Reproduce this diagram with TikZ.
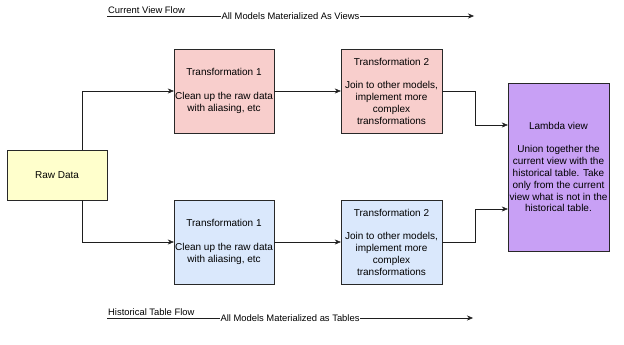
\documentclass[tikz,border=0pt]{standalone}
\usepackage{fontspec}
\setmainfont{Liberation Sans}
\usepackage{xcolor}
\usepackage{tikz}
\usetikzlibrary{arrows.meta,positioning,calc}
\definecolor{flowline}{RGB}{30,30,30}
\definecolor{boxedge}{RGB}{40,40,40}
\definecolor{rawfill}{RGB}{255,255,204}
\definecolor{viewfill}{RGB}{248,206,204}
\definecolor{tablefill}{RGB}{218,232,252}
\definecolor{lambdafill}{RGB}{200,160,245}
\tikzset{
  stagebox/.style={draw=boxedge, align=center, font=\fontsize{10}{11.8}\selectfont,
    minimum width=100pt, minimum height=84pt, inner sep=1pt},
  rawbox/.style={stagebox, fill=rawfill, minimum height=50pt},
  viewbox/.style={stagebox, fill=viewfill},
  tablebox/.style={stagebox, fill=tablefill},
  lambdabox/.style={stagebox, fill=lambdafill, minimum width=101pt, minimum height=168pt},
  arrow/.style={-{Stealth[length=6pt,width=5pt]}, draw=flowline},
  flowlabel/.style={font=\fontsize{9.4}{11.8}\selectfont, inner sep=1pt},
}
\begin{document}
\begin{tikzpicture}[x=1pt, y=-1pt]
  \useasboundingbox (0,0) rectangle (624,345);
  % boxes
  \node[rawbox] (raw) at (57,175) {Raw Data};
  \node[viewbox] (viewone) at (224,91) {Transformation 1\\[11.8pt]Clean up the raw data\\with aliasing, etc};
  \node[viewbox, minimum width=101pt] (viewtwo) at (391.5,91) {Transformation 2\\[11.8pt]Join to other models,\\implement more\\complex\\transformations};
  \node[tablebox] (tableone) at (224,242) {Transformation 1\\[11.8pt]Clean up the raw data\\with aliasing, etc};
  \node[tablebox, minimum width=101pt] (tabletwo) at (391.5,242) {Transformation 2\\[11.8pt]Join to other models,\\implement more\\complex\\transformations};
  \node[lambdabox] (lambda) at (558.5,167) {Lambda view\\[11.8pt]Union together the\\current view with the\\historical table. Take\\only from the current\\view what is not in the\\historical table.};
  % connectors
  \draw[arrow] ([xshift=25pt]raw.north) |- (viewone.west);
  \draw[arrow] ([xshift=25pt]raw.south) |- (tableone.west);
  \draw[arrow] (viewone) -- (viewtwo);
  \draw[arrow] (tableone) -- (tabletwo);
  \draw[arrow] (viewtwo.east) -- ++(33,0) |- ([yshift=42pt]lambda.west);
  \draw[arrow] (tabletwo.east) -- ++(33,0) |- ([yshift=-42pt]lambda.west);
  % flow timelines
  \coordinate (viewstart) at (107,16);
  \coordinate (viewend) at (474,16);
  \coordinate (tablestart) at (107,318);
  \coordinate (tableend) at (473,318);
  \node[flowlabel, anchor=south west] (viewtitle) at ([yshift=1pt]viewstart) {Current View Flow};
  \node[flowlabel, anchor=south west] (tabletitle) at ([yshift=1pt]tablestart) {Historical Table Flow};
  \draw[arrow] (viewstart) -- (viewend) node[flowlabel, midway, fill=white] (viewnote) {All Models Materialized As Views};
  \draw[arrow] (tablestart) -- (tableend) node[flowlabel, midway, fill=white] (tablenote) {All Models Materialized as Tables};
\end{tikzpicture}
\end{document}
